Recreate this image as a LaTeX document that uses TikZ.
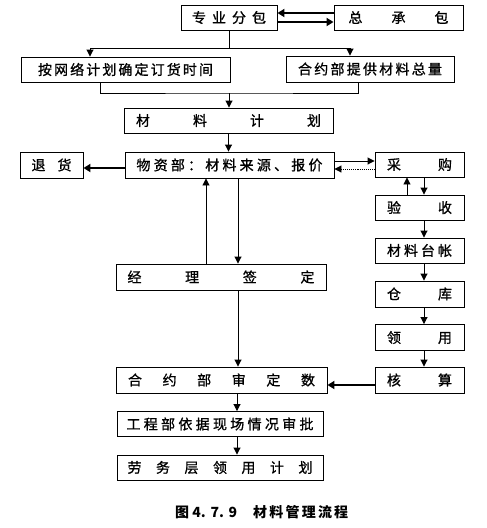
\documentclass[tikz,border=0pt]{standalone}
\usepackage{fontspec}
\setmainfont{Noto Sans CJK SC}
\newfontfamily\boxfont{Noto Sans CJK SC}[FakeBold=1]
\usetikzlibrary{arrows.meta}
\newcommand{\spr}[2]{\makebox[#1pt][s]{#2}}
\begin{document}
\begin{tikzpicture}[x=1pt,y=-1pt,
  box/.style={draw,line width=0.9pt,inner sep=0pt,font=\boxfont\fontsize{14}{14}\selectfont},
  conn/.style={line width=0.9pt},
  arr/.style={line width=0.9pt,-{Triangle[length=7pt,width=7pt]}},
  thickarr/.style={line width=1.8pt,-{Triangle[length=7pt,width=8pt]}},
  dotarr/.style={arr,densely dotted}]
\useasboundingbox (0,0) rectangle (487,528);
% boxes
\node[box,minimum width=96pt,minimum height=25pt] (zyfb) at (229,17.5) {\spr{74}{专\hfil 业\hfil 分\hfil 包}};
\node[box,minimum width=129pt,minimum height=25pt] (zcb) at (398.5,17.5) {\spr{100}{总\hfil 承\hfil 包}};
\node[box,minimum width=209pt,minimum height=25pt] (awl) at (125.5,69.5) {\spr{175}{按\hfil 网\hfil 络\hfil 计\hfil 划\hfil 确\hfil 定\hfil 订\hfil 货\hfil 时\hfil 间}};
\node[box,minimum width=168pt,minimum height=26pt] (hyb) at (370,69) {\spr{144}{合\hfil 约\hfil 部\hfil 提\hfil 供\hfil 材\hfil 料\hfil 总\hfil 量}};
\node[box,minimum width=209pt,minimum height=25pt] (clj) at (228.5,120.5) {\spr{185}{材\hfil 料\hfil 计\hfil 划}};
\node[box,minimum width=209pt,minimum height=26pt] (wzb) at (229.5,165) {\spr{186}{物\hfil 资\hfil 部\hfil ：\hfil 材\hfil 料\hfil 来\hfil 源\hfil 、\hfil 报\hfil 价}};
\node[box,minimum width=63pt,minimum height=26pt] (th) at (51.5,165) {\spr{40}{退\hfil 货}};
\node[box,minimum width=89pt,minimum height=25pt] (cg) at (419.5,164.5) {\spr{65}{采\hfil 购}};
\node[box,minimum width=89pt,minimum height=25pt] (ys) at (419.5,207.5) {\spr{65}{验\hfil 收}};
\node[box,minimum width=89pt,minimum height=25pt] (cltz) at (419.5,250.5) {\spr{65}{材\hfil 料\hfil 台\hfil 帐}};
\node[box,minimum width=89pt,minimum height=26pt] (ck) at (419.5,294) {\spr{65}{仓\hfil 库}};
\node[box,minimum width=89pt,minimum height=26pt] (ly) at (419.5,337.5) {\spr{65}{领\hfil 用}};
\node[box,minimum width=89pt,minimum height=26pt] (hs) at (419.5,380) {\spr{65}{核\hfil 算}};
\node[box,minimum width=210pt,minimum height=26pt] (jl) at (221,277) {\spr{187}{经\hfil 理\hfil 签\hfil 定}};
\node[box,minimum width=211pt,minimum height=26pt] (hysd) at (221.5,380) {\spr{187}{合\hfil 约\hfil 部\hfil 审\hfil 定\hfil 数}};
\node[box,minimum width=206pt,minimum height=25pt] (gcb) at (220,424) {\spr{187}{工\hfil 程\hfil 部\hfil 依\hfil 据\hfil 现\hfil 场\hfil 情\hfil 况\hfil 审\hfil 批}};
\node[box,minimum width=206pt,minimum height=25pt] (lwc) at (220,467.5) {\spr{185}{劳\hfil 务\hfil 层\hfil 领\hfil 用\hfil 计\hfil 划}};
\node[anchor=west,inner sep=0pt,font=\bfseries\fontsize{14}{14}\selectfont] (cap) at (175,512) {\makebox[56pt][l]{图 4.\,\,7.\,\,9}\hspace{22pt}\spr{95}{材\hfil 料\hfil 管\hfil 理\hfil 流\hfil 程}};
% helper coordinates
\coordinate (j1) at (229,48);
\coordinate (j2) at (229,93);
\coordinate (a90) at (90,0);
\coordinate (a350) at (350,0);
\coordinate (a100) at (100,0);
\coordinate (a358) at (358,0);
\coordinate (a206) at (206,0);
\coordinate (a238) at (238,0);
\coordinate (a237) at (237,0);
\coordinate (a407) at (407,0);
\coordinate (a424) at (424,0);
% connectors
\draw[thickarr] ([yshift=4.5pt]zcb.west) -- ([yshift=4.5pt]zyfb.east);
\draw[thickarr] ([yshift=-4.5pt]zyfb.east) -- ([yshift=-4.5pt]zcb.west);
\draw[conn] (zyfb.south) -- (j1);
\draw[arr] (j1) -| (awl.north -| a90);
\draw[arr] (j1) -| (hyb.north -| a350);
\draw[conn] (awl.south -| a100) |- (j2) -| (hyb.south -| a358);
\draw[arr] (j2) -- (clj.north -| j2);
\draw[arr] (clj.south) -- (clj.south |- wzb.north);
\draw[thickarr] ([yshift=-3pt]wzb.west) -- ([yshift=-3pt]wzb.west -| th.east);
\draw[arr] ([yshift=4pt]wzb.east) -- ([yshift=4pt]wzb.east -| cg.west);
\draw[dotarr] ([yshift=-4.5pt]cg.west) -- ([yshift=-4.5pt]cg.west -| wzb.east);
\draw[arr] (jl.north -| a206) -- (wzb.south -| a206);
\draw[arr] (wzb.south -| a238) -- (jl.north -| a238);
\draw[arr] (jl.south -| a238) -- (hysd.north -| a238);
\draw[arr] (hysd.south -| a237) -- (gcb.north -| a237);
\draw[arr] (gcb.south -| a237) -- (lwc.north -| a237);
\draw[arr] (ys.north -| a407) -- (cg.south -| a407);
\draw[arr] (cg.south -| a424) -- (ys.north -| a424);
\draw[arr] (ys.south -| a424) -- (cltz.north -| a424);
\draw[arr] (cltz.south -| a424) -- (ck.north -| a424);
\draw[arr] (ck.south -| a424) -- (ly.north -| a424);
\draw[arr] (ly.south -| a424) -- (hs.north -| a424);
\draw[thickarr] ([yshift=-5pt]hs.west) -- ([yshift=-5pt]hs.west -| hysd.east);
\end{tikzpicture}
\end{document}
